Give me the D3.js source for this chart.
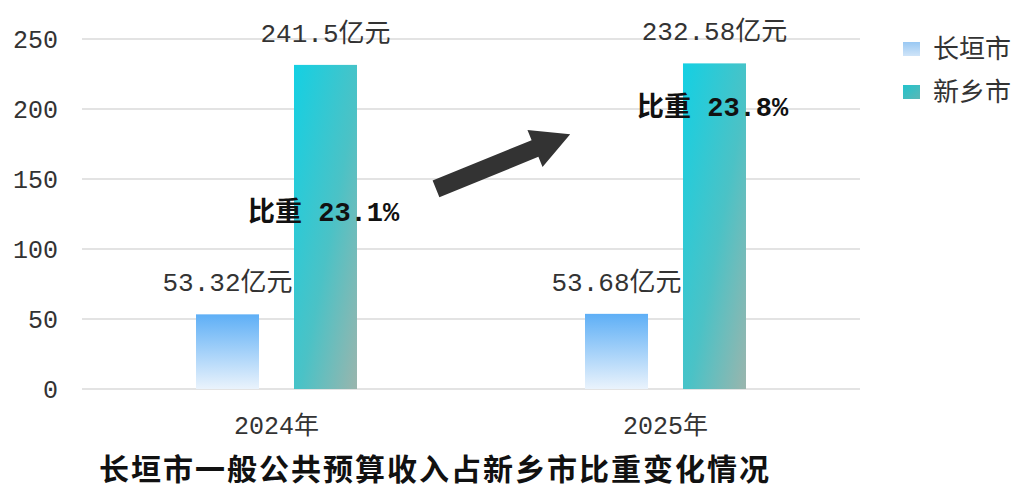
<!DOCTYPE html>
<html><head><meta charset="utf-8">
<script src="https://cdn.jsdelivr.net/npm/d3@7"></script>
<style>
html,body{margin:0;padding:0;background:#fff;}
svg{display:block;}
</style></head>
<body>
<svg id="chart" width="1021" height="490"></svg>
<script>
const categories = ["2024年", "2025年"];
const seriesNames = ["长垣市", "新乡市"];
const changyuanValues = [53.32, 53.68];
const xinxiangValues = [231.5, 232.58];
const changyuanLabels = ["53.32亿元", "53.68亿元"];
const xinxiangLabels = ["241.5亿元", "232.58亿元"];
const shareLabels = ["比重 23.1%", "比重 23.8%"];
const shareLevels = [127, 202];
const yTicks = [0, 50, 100, 150, 200, 250];
const title = "长垣市一般公共预算收入占新乡市比重变化情况";

const monoFont = "'Liberation Mono','Noto Sans CJK SC',monospace";
const cjkFont = "'Noto Sans CJK SC',sans-serif";

const svg = d3.select("#chart");
const defs = svg.append("defs");

const gBlue = defs.append("linearGradient").attr("id","gBlue").attr("x1",0).attr("y1",0).attr("x2",0).attr("y2",1);
gBlue.append("stop").attr("offset","0%").attr("stop-color","#5eaff6");
gBlue.append("stop").attr("offset","100%").attr("stop-color","#eaf3fc");
const gTeal = defs.append("linearGradient").attr("id","gTeal").attr("x1",0).attr("y1",0).attr("x2",1).attr("y2",1);
gTeal.append("stop").attr("offset","0%").attr("stop-color","#14d0e3");
gTeal.append("stop").attr("offset","55%").attr("stop-color","#4bc2c6");
gTeal.append("stop").attr("offset","100%").attr("stop-color","#9ab5ad");
const gBlueL = defs.append("linearGradient").attr("id","gBlueL").attr("x1",0).attr("y1",0).attr("x2",0).attr("y2",1);
gBlueL.append("stop").attr("offset","0%").attr("stop-color","#99c8f3");
gBlueL.append("stop").attr("offset","100%").attr("stop-color","#cfe4f8");
const gTealL = defs.append("linearGradient").attr("id","gTealL").attr("x1",0).attr("y1",0).attr("x2",1).attr("y2",1);
gTealL.append("stop").attr("offset","0%").attr("stop-color","#22c3cc");
gTealL.append("stop").attr("offset","100%").attr("stop-color","#5cb7b5");

const y = d3.scaleLinear().domain([0,250]).range([389,39]);
const x0 = d3.scaleBand().domain(categories).range([82,860]).paddingInner(0).paddingOuter(0);
const bw = x0.bandwidth();
const x1 = d3.scaleBand().domain(seriesNames).range([bw/2-80.5, bw/2+80.5]).paddingInner(0.357).paddingOuter(0);

// grid
const grid = svg.append("g");
grid.selectAll("line").data(yTicks).join("line")
  .attr("x1",82).attr("x2",860)
  .attr("y1",d=>y(d)).attr("y2",d=>y(d))
  .attr("stroke","#e3e3e3").attr("stroke-width",2);

// y axis labels
const yAxis = d3.axisLeft(y).tickValues(yTicks).tickSize(0).tickPadding(0);
const ya = svg.append("g").attr("transform","translate(58,0)").call(yAxis);
ya.select(".domain").remove();
ya.selectAll("text").attr("font-family",monoFont).attr("font-size",25).attr("fill","#333").attr("dy","0.35em");

// x axis labels
const xAxis = d3.axisBottom(x0).tickSize(0).tickPadding(0);
const xa = svg.append("g").attr("transform","translate(0,425)").call(xAxis);
xa.select(".domain").remove();
xa.selectAll("text").attr("font-family",monoFont).attr("font-size",25).attr("fill","#333").attr("dy","0.35em");

const rows = categories.map((c,i)=>({cat:c, vals:[
  {s:seriesNames[0], v:changyuanValues[i], label:changyuanLabels[i], fill:"url(#gBlue)"},
  {s:seriesNames[1], v:xinxiangValues[i], label:xinxiangLabels[i], fill:"url(#gTeal)"}
]}));

const groups = svg.append("g").selectAll("g").data(rows).join("g")
  .attr("transform",d=>`translate(${x0(d.cat)},0)`);
groups.selectAll("rect").data(d=>d.vals).join("rect")
  .attr("x",d=>x1(d.s)).attr("width",x1.bandwidth())
  .attr("y",d=>y(d.v)).attr("height",d=>y(0)-y(d.v))
  .attr("fill",d=>d.fill);
groups.selectAll("text.val").data(d=>d.vals).join("text").attr("class","val")
  .attr("x",d=>x1(d.s)+x1.bandwidth()/2)
  .attr("y",d=>y(d.v)-23)
  .attr("text-anchor","middle")
  .attr("font-family",monoFont).attr("font-size",26).attr("fill","#333")
  .text(d=>d.label);

// share annotations
svg.append("g").selectAll("text").data(categories).join("text")
  .attr("x",(d)=>x0(d)+x1(seriesNames[1])-46)
  .attr("y",(d,i)=>y(shareLevels[i]))
  .attr("dy","0.35em")
  .attr("font-family",monoFont).attr("font-size",27).attr("font-weight","bold").attr("fill","#111")
  .text((d,i)=>shareLabels[i]);

// arrow
const tail = [x0(categories[0])+bw*0.91, y(143)];
const tip = [x0(categories[1])+bw*0.255, y(182)];
(function(){
  const dx=tip[0]-tail[0], dy=tip[1]-tail[1], L=Math.hypot(dx,dy);
  const ux=dx/L, uy=dy/L, nx=-uy, ny=ux;
  const headLen=38, headW=20, shaftW=9;
  const bx=tip[0]-ux*headLen, by=tip[1]-uy*headLen;
  const pts=[
    [tail[0]+nx*shaftW, tail[1]+ny*shaftW],
    [bx+nx*shaftW, by+ny*shaftW],
    [bx+nx*headW, by+ny*headW],
    tip,
    [bx-nx*headW, by-ny*headW],
    [bx-nx*shaftW, by-ny*shaftW],
    [tail[0]-nx*shaftW, tail[1]-ny*shaftW]
  ];
  svg.append("path").attr("d",d3.line()(pts)+"Z").attr("fill","#333");
})();

// legend
const legendFills = ["url(#gBlueL)","url(#gTealL)"];
const lg = svg.append("g").selectAll("g").data(seriesNames).join("g")
  .attr("transform",(d,i)=>`translate(903,${42+i*43})`);
lg.append("rect").attr("width",17).attr("height",14).attr("fill",(d,i)=>legendFills[i]);
lg.append("text").attr("x",30).attr("y",7).attr("dy","0.35em")
  .attr("font-family",cjkFont).attr("font-size",26).attr("fill","#333").text(d=>d);

// title
svg.append("text").attr("x",435).attr("y",469).attr("dy","0.35em").attr("text-anchor","middle")
  .attr("font-family",cjkFont).attr("font-size",30).attr("font-weight","bold").attr("fill","#111")
  .attr("letter-spacing",2)
  .text(title);
</script>
</body></html>
